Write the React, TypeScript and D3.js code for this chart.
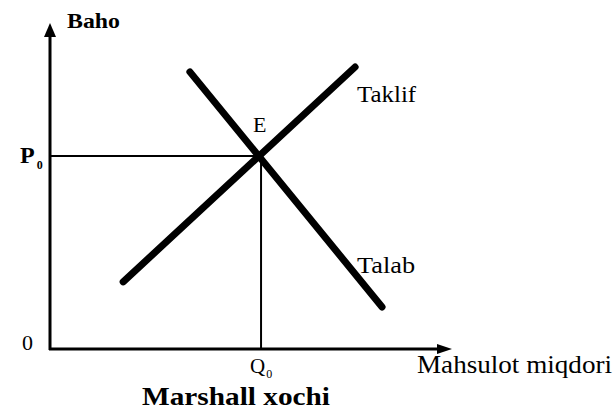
import React from "react";
import * as d3 from "d3";

// curve endpoints in chart units (0-100 on both axes)
const demand = [
  { q: 34.8, p: 85.0 },
  { q: 82.6, p: 12.9 },
];
const supply = [
  { q: 18.2, p: 20.6 },
  { q: 75.9, p: 86.5 },
];
const equilibrium = { q: 52.0, p: 59.2 };
const curveLabels = [
  { text: "Taklif", q: 76.4, p: 75.8, len: 59 },
  { text: "Talab", q: 76.4, p: 23.3, len: 58 },
];

const W = 614;
const H = 413;
const FONT = "'Liberation Serif', 'Times New Roman', 'DejaVu Serif', serif";

export default function App() {
  const x = d3.scaleLinear().domain([0, 100]).range([50, 452]);
  const y = d3.scaleLinear().domain([0, 100]).range([349, 23]);
  const line = d3
    .line<{ q: number; p: number }>()
    .x((d) => x(d.q))
    .y((d) => y(d.p));

  const ex = x(equilibrium.q);
  const ey = y(equilibrium.p);
  const x0 = x(0);
  const y0 = y(0);
  const txt = { fontFamily: FONT, fill: "#000" };

  return (
    <svg
      width={W}
      height={H}
      style={{ position: "absolute", left: 0, top: 0, background: "#fff" }}
    >
      {/* axes */}
      <line x1={x0} y1={y0 + 1} x2={x0} y2={y(100) + 12} stroke="#000" strokeWidth={3} />
      <path d={`M${x0},${y(100)} L${x0 - 6},${y(100) + 14} L${x0 + 6},${y(100) + 14} Z`} fill="#000" />
      <line x1={x0 - 1} y1={y0} x2={x(100) - 12} y2={y0} stroke="#000" strokeWidth={3} />
      <path d={`M${x(100)},${y0} L${x(100) - 15},${y0 - 5} L${x(100) - 15},${y0 + 5} Z`} fill="#000" />

      {/* guide lines */}
      <line x1={x0} y1={ey} x2={ex} y2={ey} stroke="#000" strokeWidth={2} />
      <line x1={ex + 2} y1={ey} x2={ex + 2} y2={y0} stroke="#000" strokeWidth={2} />

      {/* curves */}
      <path d={line(demand) ?? ""} stroke="#000" strokeWidth={7} strokeLinecap="round" fill="none" />
      <path d={line(supply) ?? ""} stroke="#000" strokeWidth={7} strokeLinecap="round" fill="none" />

      {/* labels */}
      <text x={67} y={28} fontSize={21} fontWeight="bold" style={txt} textLength={53} lengthAdjust="spacingAndGlyphs">
        Baho
      </text>
      <text x={20} y={163} fontSize={24} fontWeight="bold" style={txt}>
        P<tspan fontSize={12} dx={2} dy={6}>0</tspan>
      </text>
      <text x={22} y={350} fontSize={22} style={txt}>0</text>
      <text x={250} y={373} fontSize={21} style={txt}>
        Q<tspan fontSize={12} dx={1} dy={5}>0</tspan>
      </text>
      <text x={253} y={132} fontSize={22} style={txt}>E</text>
      {curveLabels.map((l) => (
        <text
          key={l.text}
          x={x(l.q)}
          y={y(l.p)}
          fontSize={24}
          style={txt}
          textLength={l.len}
          lengthAdjust="spacingAndGlyphs"
        >
          {l.text}
        </text>
      ))}
      <text x={417} y={373} fontSize={25} style={txt} textLength={195} lengthAdjust="spacingAndGlyphs">
        Mahsulot  miqdori
      </text>
      <text x={142} y={405} fontSize={26} fontWeight="bold" style={txt} textLength={188} lengthAdjust="spacingAndGlyphs">
        Marshall xochi
      </text>
    </svg>
  );
}
